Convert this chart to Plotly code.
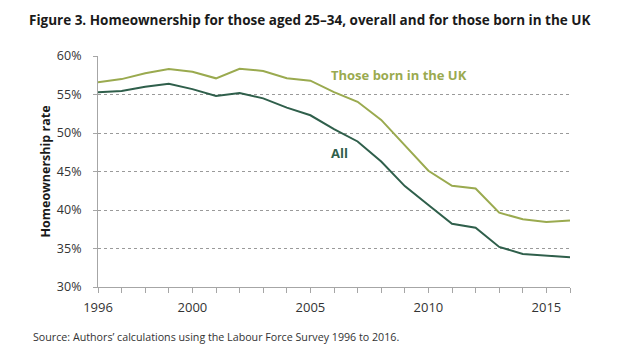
import plotly.graph_objects as go

years = list(range(1996, 2017))
uk_born = [56.6, 57.0, 57.75, 58.3, 57.95, 57.1, 58.35, 58.05, 57.1, 56.8, 55.3,
           54.05, 51.7, 48.4, 45.1, 43.15, 42.8, 39.65, 38.8, 38.45, 38.65]
all_ = [55.3, 55.45, 56.0, 56.4, 55.7, 54.8, 55.2, 54.5, 53.3, 52.3, 50.5,
        48.9, 46.3, 43.1, 40.65, 38.2, 37.7, 35.2, 34.3, 34.05, 33.85]
y_ticks = [30, 35, 40, 45, 50, 55, 60]
y_tick_labels = ["30%", "35%", "40%", "45%", "50%", "55%", "60%"]
x_ticks = [1996, 2000, 2005, 2010, 2015]

LIGHT = "#9aaa4f"
DARK = "#2f5f4b"
FONT = "Open Sans"

L, R, T, B = 98, 60, 56, 62
PW, PH = 630 - L - R, 349 - T - B


def px(xp):
    return (xp - L) / PW


def py(yp):
    return (349 - B - yp) / PH


fig = go.Figure()
fig.add_trace(go.Scatter(x=years, y=uk_born, mode="lines",
                         line=dict(color=LIGHT, width=2), name="Those born in the UK"))
fig.add_trace(go.Scatter(x=years, y=all_, mode="lines",
                         line=dict(color=DARK, width=2), name="All"))

fig.update_layout(
    width=630, height=349,
    margin=dict(l=L, r=R, t=T, b=B),
    paper_bgcolor="white", plot_bgcolor="white",
    showlegend=False,
    font=dict(family=FONT, color="#333333", size=12),
    xaxis=dict(range=[1996, 2016], tickvals=x_ticks, showgrid=False,
               showline=True, linecolor="#a6a6a6", linewidth=1,
               ticks="outside", ticklen=5, tickcolor="#a6a6a6",
               minor=dict(tickvals=years, ticks="outside", ticklen=5, tickcolor="#a6a6a6", showgrid=False),
               ticklabelstandoff=3,
               tickfont=dict(size=13, color="#333333"), zeroline=False),
    yaxis=dict(range=[30, 60], tickvals=y_ticks, ticktext=y_tick_labels,
               showgrid=True, gridcolor="#9a9a9a", griddash="dot", gridwidth=1,
               showline=True, linecolor="#a6a6a6", linewidth=1,
               ticks="outside", ticklen=4, tickcolor="#a6a6a6",
               ticklabelstandoff=9,
               tickfont=dict(size=12.5, color="#333333"), zeroline=False,
               title=dict(text="<b>Homeownership rate</b>", font=dict(size=12.5, color="#1a1a1a"), standoff=3)),
)

fig.add_annotation(x=px(27), y=py(20), xref="paper", yref="paper",
                   xanchor="left", yanchor="middle", showarrow=False,
                   text="<b>Figure 3. Homeownership for those aged 25\u201334, overall and for those born in the UK</b>",
                   font=dict(size=13.5, color="#1a1a1a", family=FONT))
fig.add_annotation(x=px(31), y=py(337), xref="paper", yref="paper",
                   xanchor="left", yanchor="middle", showarrow=False,
                   text="Source: Authors\u2019 calculations using the Labour Force Survey 1996 to 2016.",
                   font=dict(size=10.7, color="#333333", family=FONT))
fig.add_annotation(x=2005.8, y=57.5, xanchor="left", yanchor="middle", showarrow=False,
                   text="<b>Those born in the UK</b>", font=dict(size=13, color=LIGHT, family=FONT))
fig.add_annotation(x=2005.8, y=47.4, xanchor="left", yanchor="middle", showarrow=False,
                   text="<b>All</b>", font=dict(size=13, color=DARK, family=FONT))

fig.write_html("out.html")
